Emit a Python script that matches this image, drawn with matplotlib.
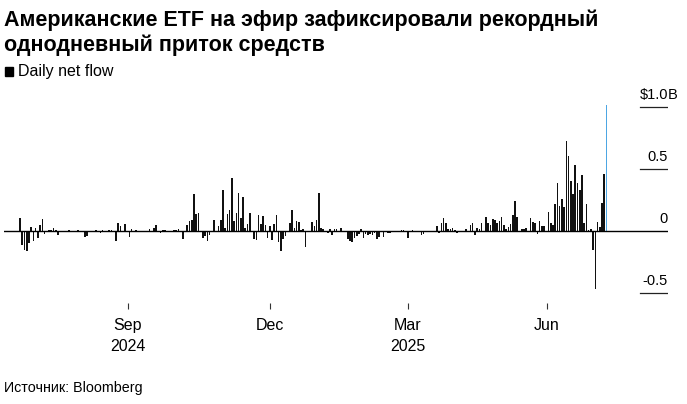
import numpy as np
import matplotlib
matplotlib.use('Agg')
import matplotlib.pyplot as plt
from matplotlib.patches import Rectangle
import matplotlib.transforms as mtransforms

plt.rcParams['font.family'] = ['Liberation Sans', 'DejaVu Sans']

# дневной чистый приток, млрд $ (торговые дни 23.07.2024 - 11.08.2025)
flows = [
    0.107, -0.113, -0.152, -0.163, -0.098, 0.034, -0.077, 0.027, -0.054, 0.049,
    0.098, -0.024, -0.002, 0.005, 0.011, 0.024, 0.011, -0.030, -0.006, -0.003,
    -0.006, -0.009, 0.004, -0.005, 0.000, -0.005, 0.005, 0.001, 0.000, -0.048,
    -0.038, 0.000, -0.006, 0.000, 0.011, 0.000, -0.015, 0.005, -0.009, 0.000,
    0.005, 0.005, 0.000, -0.079, 0.062, 0.043, -0.001, 0.058, 0.000, -0.048,
    0.014, 0.000, 0.007, 0.000, -0.002, 0.000, 0.002, 0.000, 0.016, -0.003,
    0.024, 0.048, 0.002, -0.019, 0.011, 0.004, -0.010, 0.002, 0.003, 0.007,
    0.009, 0.014, -0.011, -0.063, 0.000, 0.052, 0.080, 0.086, 0.295, 0.136,
    0.147, -0.003, -0.060, -0.039, -0.082, -0.030, 0.000, 0.091, 0.003, 0.040,
    0.090, 0.333, 0.024, 0.133, 0.168, 0.428, 0.084, 0.146, 0.306, 0.102,
    0.274, 0.024, 0.054, 0.146, 0.003, -0.061, -0.075, 0.131, 0.054, 0.117,
    0.048, -0.055, 0.036, -0.070, 0.056, 0.130, -0.087, -0.159, -0.068, -0.040,
    -0.005, 0.062, 0.170, 0.020, 0.080, 0.075, 0.010, 0.013, -0.130, 0.000,
    0.000, 0.070, 0.040, 0.088, 0.310, 0.020, 0.015, 0.002, -0.013, 0.015,
    -0.030, 0.015, 0.015, 0.001, 0.020, 0.002, -0.010, -0.065, -0.080, -0.090,
    -0.055, -0.040, -0.025, 0.015, -0.060, -0.025, -0.030, -0.025, -0.035, -0.020,
    -0.065, -0.050, -0.005, -0.045, -0.012, -0.014, -0.019, 0.000, 0.002, -0.002,
    0.000, 0.008, 0.007, 0.000, -0.054, 0.000, 0.008, 0.000, -0.003, 0.002,
    -0.032, -0.022, 0.000, -0.005, 0.000, -0.012, 0.000, 0.043, -0.016, 0.066,
    0.106, 0.068, 0.013, 0.016, 0.022, 0.004, -0.013, -0.010, -0.008, -0.005,
    0.018, -0.008, 0.045, 0.064, -0.035, 0.026, 0.016, 0.066, 0.002, 0.112,
    0.063, 0.045, 0.094, 0.090, 0.065, 0.080, 0.110, 0.050, 0.014, 0.034,
    0.058, 0.128, 0.242, 0.115, 0.002, 0.018, 0.016, 0.022, -0.005, 0.102,
    0.072, 0.065, -0.022, 0.080, 0.038, 0.043, 0.001, 0.150, 0.067, 0.048,
    0.215, 0.385, 0.204, 0.259, 0.192, 0.727, 0.602, 0.402, 0.297, 0.534,
    0.386, 0.332, 0.453, 0.065, 0.219, 0.006, 0.017, -0.152, -0.465, 0.073,
    0.035, 0.222, 0.461, 1.019,
]

month_labels = ['Sep\n2024', 'Dec', 'Mar\n2025', 'Jun']
month_pos = [48.4, 112.1, 174.0, 236.3]   # позиции подписей (индекс торгового дня)

y_ticks = [1.0, 0.5, 0, -0.5]
y_labels = ['$1.0', '0.5', '0', '-0.5']

W, H = 687, 404
fig = plt.figure(figsize=(W / 100, H / 100), dpi=100)
ax = fig.add_axes([4 / W, 1 - 303 / H, 664 / W, (303 - 88) / H])

x = np.arange(len(flows))
colors = ['#111111'] * (len(flows) - 1) + ['#4da6e3']
ax.bar(x, flows, width=0.72, color=colors, linewidth=0)

ax.set_xlim(-7.2, 290.6)
ax.set_ylim(-0.581, 1.153)

ax.axhline(0, color='black', lw=1.0, zorder=3)
seg_start = (640 - 4) / 664
for v in [1.0, 0.5, -0.5]:
    ax.axhline(v, xmin=seg_start, xmax=1, color='#222222', lw=0.9)

trans = mtransforms.blended_transform_factory(ax.transAxes, ax.transData)
for v, lab in zip(y_ticks, y_labels):
    ax.annotate(lab, xy=(1.0, v), xycoords=trans, xytext=(0, 6),
                textcoords='offset points', ha='right', va='baseline',
                fontsize=10.5, color='black')
# единица измерения выходит за край шкалы
ax.annotate('B', xy=(1.0, y_ticks[0]), xycoords=trans, xytext=(0, 6),
            textcoords='offset points', ha='left', va='baseline',
            fontsize=10.5, color='black', annotation_clip=False)

ax.set_xticks(month_pos)
ax.set_xticklabels(month_labels, fontsize=11.5)
for lbl in ax.get_xticklabels():
    lbl.set_linespacing(1.45)
ax.tick_params(axis='x', length=4, width=0.8, color='#333333', pad=7)
ax.tick_params(axis='y', left=False, labelleft=False)
for s in ax.spines.values():
    s.set_visible(False)

fig.text(4 / W, 1 - 26 / H, 'Американские ETF на эфир зафиксировали рекордный',
         fontsize=15.5, fontweight='bold', va='baseline')
fig.text(4 / W, 1 - 51 / H, 'однодневный приток средств',
         fontsize=15.5, fontweight='bold', va='baseline')

fig.patches.append(Rectangle((5 / W, 1 - 76 / H), 8 / W, 9 / H,
                             transform=fig.transFigure, color='black'))
fig.text(18 / W, 1 - 76 / H, 'Daily net flow', fontsize=11.5, va='baseline')

fig.text(4 / W, 1 - 392 / H, 'Источник: Bloomberg', fontsize=10.3, va='baseline')

fig.savefig('out.png', dpi=100)
